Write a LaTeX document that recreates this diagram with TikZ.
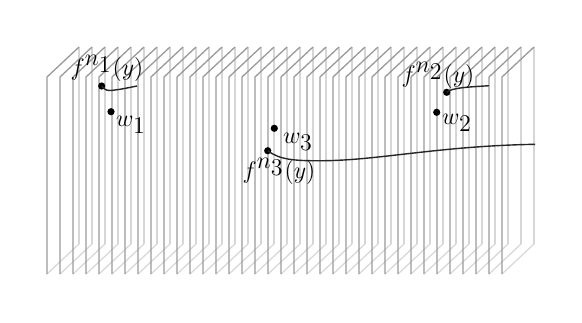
\documentclass[tikz,border=0pt]{standalone}
\begin{document}
\begin{tikzpicture}[x=0.5pt,y=-0.5pt,
  frontedge/.style={draw=black!40,line width=0.65pt},
  backedge/.style={draw=black!16,line width=0.6pt},
  dotnode/.style={circle,fill=black,inner sep=0pt,minimum size=3.6pt},
  curveline/.style={draw=black!85,line width=0.7pt},
  lbl/.style={inner sep=0pt,font=\large}]
\useasboundingbox (0,0) rectangle (582,322);
% hidden edges
\foreach \i in {0,...,35}{
  \pgfmathsetmacro{\xx}{47+13*\i}
  \draw[backedge] (\xx+32,47) -- (\xx+32,244);
  \draw[backedge] (\xx,274) -- (\xx+32,244);
}
% visible edges
\foreach \i in {0,...,35}{
  \pgfmathsetmacro{\xx}{47+13*\i}
  \draw[frontedge] (\xx,274) -- (\xx,77) -- (\xx+32,47);
}
% points
\node[dotnode] (f1) at (101.7,86) {};
\node[dotnode] (w1) at (111,111.7) {};
\node[dotnode] (f2) at (446.7,92.3) {};
\node[dotnode] (w2) at (436.7,112.3) {};
\node[dotnode] (f3) at (267.7,150.7) {};
\node[dotnode] (w3) at (274.3,128.3) {};
\coordinate (e1) at (137,86);
\coordinate (e2) at (489,85.7);
\coordinate (e3) at (535,144.3);
% curves
\draw[curveline] (f1.center) .. controls (105,91) and (109,91) .. (115,90) .. controls (124,88.8) and (130,87.3) .. (e1);
\draw[curveline] (f2.center) .. controls (452,87.5) and (470,87) .. (e2);
\draw[curveline] (f3.center) .. controls (280,160) and (295,161) .. (325,160.7) .. controls (380,160) and (440,146) .. (e3);
% labels
\node[lbl] (lf1) at (107,68) {$f^{\textstyle n_{\textstyle 1}}(y)$};
\node[lbl] (lw1) at (131,125) {$w_{\textstyle 1}$};
\node[lbl] (lf2) at (438,75) {$f^{\textstyle n_{\textstyle 2}}(y)$};
\node[lbl] (lw2) at (457,123) {$w_{\textstyle 2}$};
\node[lbl] (lf3) at (279,171) {$f^{\textstyle n_{\textstyle 3}}(y)$};
\node[lbl] (lw3) at (298,142) {$w_{\textstyle 3}$};
\end{tikzpicture}
\end{document}
